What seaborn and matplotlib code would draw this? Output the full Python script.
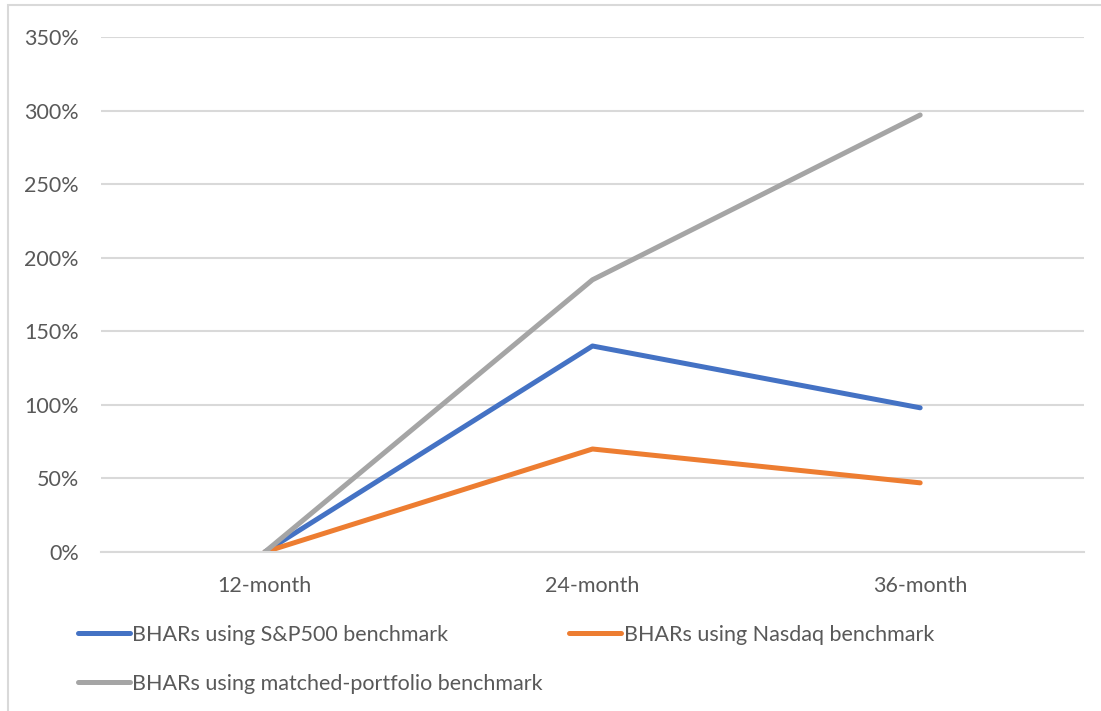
import matplotlib
matplotlib.use("Agg")
import matplotlib.pyplot as plt
import matplotlib.ticker as mticker
from matplotlib.patches import Rectangle
import seaborn as sns
import pandas as pd

periods = ["12-month", "24-month", "36-month"]
sp500 = [0, 140, 98]
nasdaq = [0, 70, 47]
matched = [0, 185, 297]
series_names = ["BHARs using S&P500 benchmark",
                "BHARs using Nasdaq benchmark",
                "BHARs using matched-portfolio benchmark"]
colors = ["#4472C4", "#ED7D31", "#A5A5A5"]
yticks = [0, 50, 100, 150, 200, 250, 300, 350]

rows = []
for name, vals in zip(series_names, [sp500, nasdaq, matched]):
    for p, v in zip(periods, vals):
        rows.append({"period": p, "value": v, "series": name})
df = pd.DataFrame(rows)

sns.set_theme(style="white")
plt.rcParams["font.family"] = ["Lato", "DejaVu Sans"]
text_color = "#595959"
grid_color = "#D9D9D9"

fig = plt.figure(figsize=(11.01, 7.11), dpi=100)
ax = fig.add_axes([101/1101, 1-552/711, (1084-101)/1101, (552-37)/711])

sns.lineplot(data=df, x="period", y="value", hue="series", hue_order=series_names,
             palette=colors, linewidth=3.6, solid_capstyle="round", ax=ax, sort=False)

ax.set_xlim(-0.5, 2.5)
ax.set_ylim(0, 350)
ax.set_yticks(yticks)
ax.yaxis.set_major_formatter(mticker.PercentFormatter(decimals=0))
ax.grid(axis="y", color=grid_color, linewidth=1.5)
ax.set_axisbelow(True)
for s in ax.spines.values():
    s.set_visible(False)
ax.spines["bottom"].set_visible(True)
ax.spines["bottom"].set_color(grid_color)
ax.spines["bottom"].set_linewidth(1.5)
ax.tick_params(axis="y", length=0, pad=16, labelsize=15.5, labelcolor=text_color)
ax.tick_params(axis="x", length=0, pad=17, labelsize=15.5, labelcolor=text_color)
ax.set_xlabel("")
ax.set_ylabel("")

handles, labels = ax.get_legend_handles_labels()
ax.get_legend().remove()
order = [0, 2, 1]
leg = fig.legend([handles[i] for i in order], [labels[i] for i in order],
                 ncol=2, loc="upper left",
                 bbox_to_anchor=(78/1101, 1-625/711), frameon=False,
                 fontsize=15.5, handlelength=2.4, handletextpad=0.12,
                 columnspacing=1.23, labelspacing=1.33, borderaxespad=0, borderpad=0)
for t in leg.get_texts():
    t.set_color(text_color)
for h in leg.get_lines():
    h.set_linewidth(3.6)
    h.set_solid_capstyle("round")

fig.patches.append(Rectangle((8/1101, -0.1), 1.2, 1.1 - 5/711,
                             transform=fig.transFigure, fill=False,
                             edgecolor=grid_color, linewidth=1.5))

fig.savefig("out.png", dpi=100, facecolor="white")
